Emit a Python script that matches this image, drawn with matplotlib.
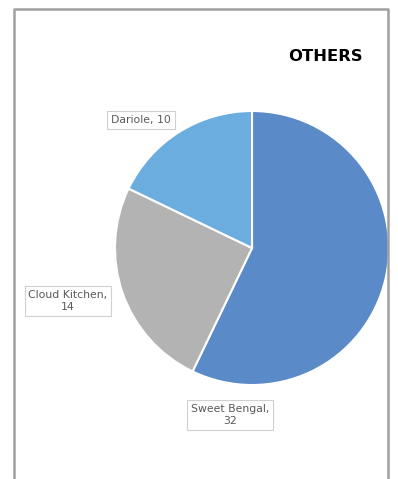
import matplotlib
matplotlib.use("Agg")
import matplotlib.pyplot as plt

labels = ["Sweet Bengal", "Cloud Kitchen", "Dariole"]
values = [32, 14, 10]
colors = ["#5A8AC8", "#B3B3B3", "#6CADE0"]
label_pos = [(230, 64), (68, 178), (141, 359)]  # pixel coords, y from bottom

plt.rcParams['font.family'] = ['DejaVu Sans']

fig = plt.figure(figsize=(3.98, 4.79), dpi=100)
ax = fig.add_axes([0, 0, 1, 1])

ax.pie(values, colors=colors, startangle=90, counterclock=False,
       center=(252, 231), radius=137, frame=True,
       wedgeprops=dict(edgecolor="white", linewidth=1.5))
ax.set_xlim(0, 398)
ax.set_ylim(0, 479)
ax.set_aspect("equal")
ax.axis("off")

texts = ["Sweet Bengal,\n32", "Cloud Kitchen,\n14", "Dariole, 10"]
for t, (x, y) in zip(texts, label_pos):
    ax.text(x, y, t, ha="center", va="center", fontsize=7.8, color="#595959",
            linespacing=1.3,
            bbox=dict(boxstyle="square,pad=0.35", facecolor="white", edgecolor="#D0D0D0", linewidth=0.8))

ax.text(325, 423, "OTHERS", ha="center", va="center", fontsize=11.8, fontweight="bold", color="black")

# chart border
ax.plot([14, 14, 388, 388], [0, 470, 470, 0], color="#A0A0A0", linewidth=1.8, clip_on=False)

fig.savefig("out.png", dpi=100)
